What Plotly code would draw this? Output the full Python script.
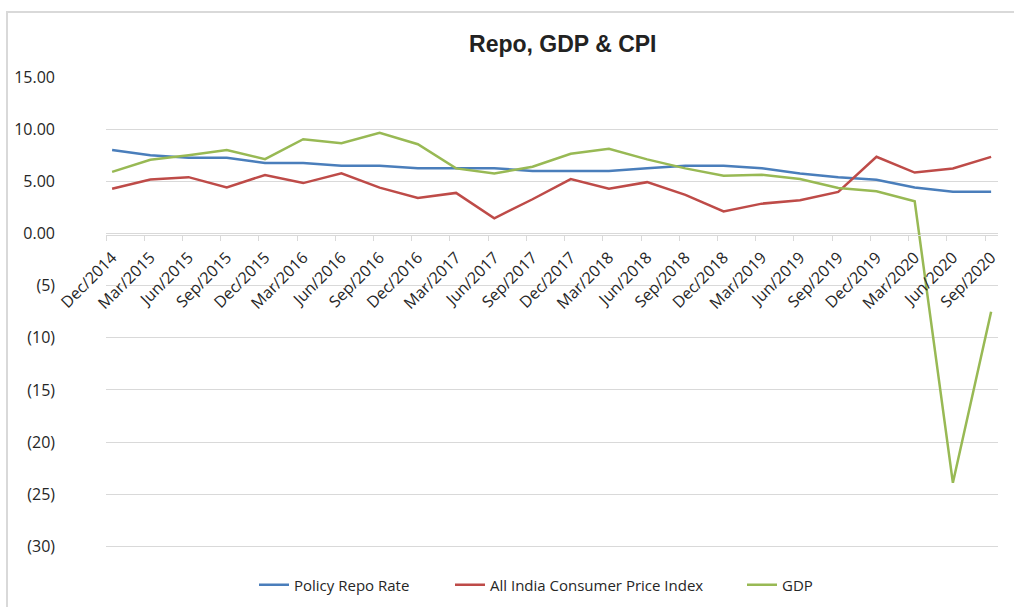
import plotly.graph_objects as go

# Quarter-end labels
quarters = [
    "Dec/2014", "Mar/2015", "Jun/2015", "Sep/2015", "Dec/2015", "Mar/2016",
    "Jun/2016", "Sep/2016", "Dec/2016", "Mar/2017", "Jun/2017", "Sep/2017",
    "Dec/2017", "Mar/2018", "Jun/2018", "Sep/2018", "Dec/2018", "Mar/2019",
    "Jun/2019", "Sep/2019", "Dec/2019", "Mar/2020", "Jun/2020", "Sep/2020",
]

# Policy repo rate (%)
repo_rate = [
    8.00, 7.50, 7.25, 7.25, 6.75, 6.75, 6.50, 6.50, 6.25, 6.25, 6.25, 6.00,
    6.00, 6.00, 6.25, 6.50, 6.50, 6.25, 5.75, 5.40, 5.15, 4.40, 4.00, 4.00,
]

# All India CPI inflation (%)
cpi = [
    4.28, 5.17, 5.40, 4.41, 5.61, 4.83, 5.77, 4.39, 3.41, 3.89, 1.46, 3.28,
    5.21, 4.28, 4.92, 3.70, 2.11, 2.86, 3.18, 3.99, 7.35, 5.84, 6.23, 7.34,
]

# GDP growth (%)
gdp = [
    5.90, 7.07, 7.50, 7.99, 7.13, 9.04, 8.66, 9.65, 8.56, 6.24, 5.76, 6.40,
    7.64, 8.12, 7.10, 6.24, 5.54, 5.63, 5.22, 4.36, 4.04, 3.09, -23.9, -7.5,
]

y_ticks = [15, 10, 5, 0, -5, -10, -15, -20, -25, -30]
y_tick_text = ["15.00", "10.00", "5.00", "0.00", "(5)", "(10)", "(15)", "(20)", "(25)", "(30)"]

# name, values, colour, legend id, legend left edge (px)
series = [
    ("Policy Repo Rate", repo_rate, "#4A7EBB", "legend", 254),
    ("All India Consumer Price Index", cpi, "#BE4B48", "legend2", 450),
    ("GDP", gdp, "#98B954", "legend3", 742),
]

x_idx = list(range(len(quarters)))
W, H = 1014, 607

fig = go.Figure()
for name, vals, color, leg, _ in series:
    fig.add_trace(go.Scatter(
        x=x_idx, y=vals, name=name, mode="lines", legend=leg,
        line=dict(color=color, width=2.5),
    ))

label_font = dict(family="Open Sans, sans-serif", size=16, color="#262626")
legend_font = dict(family="Open Sans, sans-serif", size=15, color="#262626")

legends = {}
for _, _, _, leg, left in series:
    legends[leg] = dict(
        orientation="h", xref="container", yref="container",
        x=left / W, xanchor="left", y=1 - 585 / H, yanchor="middle",
        font=legend_font, bgcolor="rgba(0,0,0,0)",
    )

fig.update_layout(
    width=W, height=H,
    margin=dict(l=106, r=16, t=77, b=59, autoexpand=False),
    paper_bgcolor="white", plot_bgcolor="white",
    title=dict(
        text="<b>Repo, GDP &amp; CPI</b>",
        x=0.555, xref="container", xanchor="center",
        y=1 - 44 / H, yref="container", yanchor="middle",
        font=dict(family="Liberation Sans, Arial, sans-serif", size=23, color="#222222"),
    ),
    xaxis=dict(
        range=[-0.16, 23.18], automargin=False,
        tickmode="array", tickvals=x_idx, ticktext=quarters,
        tickangle=-45, ticks="outside", ticklen=6, tickcolor="rgba(0,0,0,0)",
        tickfont=label_font,
        showgrid=False, zeroline=False,
        showline=True, linecolor="#D9D9D9", linewidth=1,
        anchor="free", position=30 / 45.15,
        minor=dict(tickmode="linear", tick0=-0.16, dtick=1, ticks="outside",
                   ticklen=5, tickcolor="#D9D9D9", tickwidth=1, showgrid=False),
    ),
    yaxis=dict(
        range=[-30.15, 15], automargin=False,
        tickmode="array", tickvals=y_ticks, ticktext=y_tick_text,
        tickfont=label_font, ticklabelstandoff=50,
        showgrid=True, gridcolor="#D9D9D9", gridwidth=1,
        zeroline=False, showline=False, ticks="",
    ),
    showlegend=True,
    **legends,
)

# Light outer frame of the chart area
fig.add_shape(
    type="rect", xref="paper", yref="paper",
    x0=(7 - 106) / 892, x1=1.2, y0=-0.3, y1=(548 - 12) / 471,
    line=dict(color="#D9D9D9", width=2), fillcolor="rgba(0,0,0,0)", layer="below",
)

fig.write_html("out.html")
